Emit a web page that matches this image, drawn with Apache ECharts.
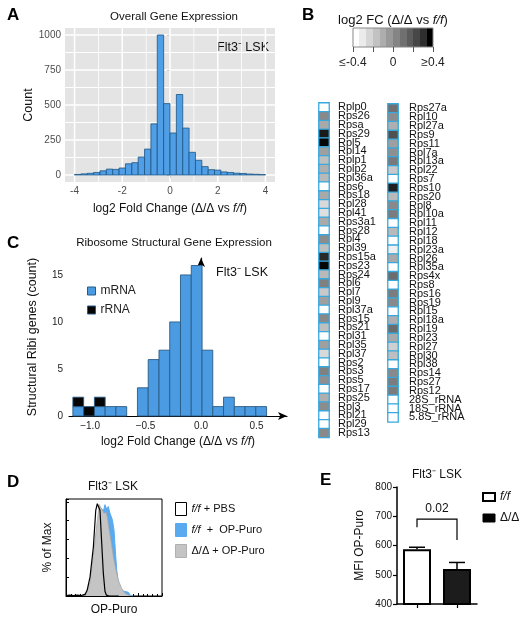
<!DOCTYPE html>
<html><head><meta charset="utf-8">
<script src="https://cdn.jsdelivr.net/npm/echarts@6/dist/echarts.min.js"></script>
<style>html,body{margin:0;padding:0;background:#fff}#c{width:525px;height:619px}</style>
</head><body><div id="c"></div>
<script>
// ---------- Panel A: overall gene expression histogram ----------
const aBinStart = [-4.000,-3.733,-3.467,-3.200,-2.933,-2.667,-2.400,-2.133,-1.867,-1.600,-1.333,-1.067,-0.800,-0.533,-0.267,0.000,0.267,0.533,0.800,1.067,1.333,1.600,1.867,2.133,2.400,2.667,2.933,3.200,3.467,3.733];
const aBinWidth = 0.2667;
const aCounts = [4,8,12,18,30,42,40,50,80,88,128,185,365,1000,510,300,575,335,162,105,60,38,35,22,18,13,11,7,5,3];
const aMajorX = [-4,-2,0,2,4];
const aMinorX = [-3,-1,1,3];
const aMajorY = [0,250,500,750,1000];
const aMinorY = [125,375,625,875];

// ---------- Panel B: heatmap of log2 FC ----------
const bGenesLeft = ['Rplp0','Rps26','Rpsa','Rps29','Rpl5','Rpl14','Rplp1','Rplp2','Rpl36a','Rps6','Rps18','Rpl28','Rpl41','Rps3a1','Rps28','Rpl4','Rpl39','Rps15a','Rps23','Rps24','Rpl6','Rpl7','Rpl9','Rpl37a','Rps15','Rps21','Rpl31','Rpl35','Rpl37','Rps2','Rps3','Rps5','Rps17','Rps25','Rpl3','Rpl21','Rpl29','Rps13'];
const bValsLeft = [-0.40,-0.03,-0.13,0.32,0.38,-0.10,-0.20,-0.15,-0.18,-0.40,-0.13,-0.28,-0.30,-0.13,-0.40,-0.04,-0.20,0.27,0.38,-0.18,0.00,-0.23,-0.10,-0.40,-0.03,-0.20,-0.40,-0.10,-0.28,-0.40,0.00,-0.05,-0.40,-0.15,-0.04,-0.40,-0.40,-0.03];
const bGenesRight = ['Rps27a','Rpl10','Rpl27a','Rps9','Rps11','Rpl7a','Rpl13a','Rpl22','Rps7','Rps10','Rps20','Rpl8','Rpl10a','Rpl11','Rpl12','Rpl18','Rpl23a','Rpl26','Rpl35a','Rps4x','Rps8','Rps16','Rps19','Rpl15','Rpl18a','Rpl19','Rpl23','Rpl27','Rpl30','Rpl38','Rps14','Rps27','Rps12','28S_rRNA','18S_rRNA','5.8S_rRNA'];
const bValsRight = [0.05,-0.04,-0.15,0.15,-0.10,-0.05,0.02,-0.23,-0.40,0.30,-0.18,-0.03,0.01,-0.40,-0.18,-0.40,-0.35,-0.13,-0.40,0.06,-0.40,0.01,-0.03,-0.40,-0.15,0.06,-0.13,-0.25,-0.20,-0.40,-0.03,0.01,0.01,-0.40,-0.40,-0.40];

// ---------- Panel C: ribosome structural gene histogram ----------
const cBinStart = [-1.155,-1.058,-0.961,-0.864,-0.767,-0.670,-0.573,-0.476,-0.379,-0.282,-0.185,-0.088,0.009,0.106,0.203,0.300,0.397,0.494];
const cBinWidth = 0.097;
const cMRNA = [1,0,1,1,1,0,3,6,7,10,15,16,7,1,2,1,1,1];
const cRRNA = [1,1,1,0,0,0,0,0,0,0,0,0,0,0,0,0,0,0];
const cTicksX = [-1.0,-0.5,0.0,0.5];
const cTicksY = [0,5,10,15];

// ---------- Panel D: OP-Puro flow histograms (% of max) ----------
const dPbsX = [0,4,8,12,16,20,22,25,28.5,31,32.6,33.7,35.4,37,38.9,40.6,42,45,55];
const dPbsY = [0.5,1,0.5,1,0.5,2,6,20,52,91,98,99,91,60,24,5,1,0,0];
const dFfX = [25,26.7,28.5,31.9,34.7,37,38.9,40.6,42.4,44,45.8,48.3,50,51.4,52.8,54.5,57,60.5,65,66.7,70];
const dFfY = [0,2,20,60,85,93,90,97,92,95,88,81,70,48,28,14,7,5,4,1,0];
const dDdX = [20,22,25,28.5,31.9,34.7,36.5,38,39.6,41.7,43,45,47.6,49.3,52,54.4,58,61.5,65,68];
const dDdY = [0,1,14,43,74,97,95,91,88,89,84,70,54,42,28,17,8,3,1,0];

// ---------- Panel E: MFI OP-Puro bars ----------
const eGroups = ['f/f','Δ/Δ'];
const eMeans = [587,520];
const eErr = [7,22];
const eBracket = [662,690,619];
const eBracketLabelY = 727;
const eP = '0.02';

const FONT = 'Liberation Sans';
const chart = echarts.init(document.getElementById('c'), null, {renderer:'canvas'});

const greySteps = ['#ffffff','#ebebeb','#d6d6d6','#c2c2c2','#adadad','#999999','#858585','#707070','#5c5c5c','#474747','#2e2e2e','#000000'];
const stops = [];
greySteps.forEach((c,i)=>{stops.push({offset:i/greySteps.length,color:c});stops.push({offset:(i+1)/greySteps.length,color:c});});

// gridline items: [x, y, major]
const aVLines = [...aMinorX.map(v=>[v,0,0]), ...aMajorX.map(v=>[v,0,1])];
const aHLines = [...aMinorY.map(v=>[0,v,0]), ...aMajorY.map(v=>[0,v,1])];

const option = {
  animation:false,
  textStyle:{fontFamily:FONT},
  grid:[
    {left:65, top:28, width:210, height:154, show:true, backgroundColor:'#e4e4e4', borderWidth:0},
    {left:353, top:28, width:80, height:19, show:true, borderColor:'#888', borderWidth:1,
      backgroundColor:{type:'linear',x:0,y:0,x2:1,y2:0,colorStops:stops}},
    {left:319, top:103, width:10, height:334.4},
    {left:388, top:104, width:10, height:317.8},
    {left:69, top:258, width:218, height:158},
    {left:66, top:499, width:96, height:97, show:true, borderColor:'#000', borderWidth:1},
    {left:397, top:487, width:80, height:117}
  ],
  xAxis:[
    {gridIndex:0, type:'value', min:-4.4, max:4.4, splitLine:{show:false}, axisLine:{show:false},
     axisTick:{show:true, length:3, lineStyle:{color:'#333'}, customValues:aMajorX},
     axisLabel:{customValues:aMajorX, fontSize:10, color:'#4d4d4d', margin:4},
     name:'log2 Fold Change (Δ/Δ vs {i|f/f})', nameLocation:'middle', nameGap:21,
     nameTextStyle:{fontSize:12, color:'#111', rich:{i:{fontStyle:'italic',fontSize:12,color:'#111'}}}},
    {gridIndex:1, type:'value', min:-0.4, max:0.4, interval:0.2, splitLine:{show:false}, axisLine:{show:false},
     axisTick:{show:true, length:5, lineStyle:{color:'#555'}},
     axisLabel:{fontSize:12, color:'#222', margin:10, formatter:v=>Math.abs(v+0.4)<1e-6?'≤-0.4':(Math.abs(v)<1e-6?'0':(Math.abs(v-0.4)<1e-6?'≥0.4':''))}},
    {gridIndex:2, type:'category', data:['v'], show:false},
    {gridIndex:3, type:'category', data:['v'], show:false},
    {gridIndex:4, type:'value', min:-1.19, max:0.775, splitLine:{show:false},
     axisLine:{show:true, lineStyle:{color:'#000', width:1.2}, symbol:['none','arrow'], symbolSize:[6,9]},
     axisTick:{show:false},
     axisLabel:{customValues:cTicksX, fontSize:10, color:'#222', margin:5, formatter:v=>(v<0?'−':'')+Math.abs(v).toFixed(1)},
     name:'log2 Fold Change (Δ/Δ vs {i|f/f})', nameLocation:'middle', nameGap:20,
     nameTextStyle:{fontSize:12, color:'#111', rich:{i:{fontStyle:'italic',fontSize:12,color:'#111'}}}},
    {gridIndex:5, type:'value', min:0, max:100, interval:25, splitLine:{show:false},
     axisLine:{show:true, lineStyle:{color:'#000', width:1}},
     axisTick:{show:true, inside:true, length:3, lineStyle:{color:'#000'}},
     minorTick:{show:true, splitNumber:5, length:2, lineStyle:{color:'#000'}},
     axisLabel:{show:false},
     name:'OP-Puro', nameLocation:'middle', nameGap:8, nameTextStyle:{fontSize:12, color:'#111'}},
    {gridIndex:6, type:'category', data:eGroups,
     axisLine:{show:true, lineStyle:{color:'#000', width:1.5}},
     axisTick:{show:true, alignWithLabel:true, length:4, lineStyle:{color:'#000', width:1.2}},
     axisLabel:{show:false}}
  ],
  yAxis:[
    {gridIndex:0, type:'value', min:-50, max:1050, splitLine:{show:false}, axisLine:{show:false},
     axisTick:{show:true, length:3, lineStyle:{color:'#333'}, customValues:aMajorY},
     axisLabel:{customValues:aMajorY, fontSize:10, color:'#4d4d4d', margin:4, formatter:v=>String(v)},
     name:'Count', nameLocation:'middle', nameGap:27, nameTextStyle:{fontSize:12.5, color:'#111'}},
    {gridIndex:1, type:'value', min:0, max:1, show:false},
    {gridIndex:2, type:'category', data:bGenesLeft, inverse:true, position:'right',
     axisLine:{show:false}, axisTick:{show:false},
     axisLabel:{interval:0, fontSize:11, color:'#111', margin:9, hideOverlap:false}},
    {gridIndex:3, type:'category', data:bGenesRight, inverse:true, position:'right',
     axisLine:{show:false}, axisTick:{show:false},
     axisLabel:{interval:0, fontSize:11, color:'#111', margin:11, hideOverlap:false}},
    {gridIndex:4, type:'value', min:0, max:16.8, splitLine:{show:false},
     axisLine:{show:true, lineStyle:{color:'#000', width:1.2}, symbol:['none','arrow'], symbolSize:[6,9]},
     axisTick:{show:true, length:4, customValues:cTicksY, lineStyle:{color:'#000'}},
     axisLabel:{customValues:cTicksY, fontSize:10, color:'#222', margin:6},
     name:'Structural Ribi genes (count)', nameLocation:'middle', nameGap:30, nameTextStyle:{fontSize:12.5, color:'#111'}},
    {gridIndex:5, type:'value', min:0, max:103, interval:20, splitLine:{show:false},
     axisLine:{show:true, lineStyle:{color:'#000', width:1}},
     axisTick:{show:true, inside:true, length:3, lineStyle:{color:'#000'}},
     axisLabel:{show:false},
     name:'% of Max', nameLocation:'middle', nameGap:12, nameTextStyle:{fontSize:12, color:'#111'}},
    {gridIndex:6, type:'value', min:400, max:800, interval:100, splitLine:{show:false},
     axisLine:{show:true, lineStyle:{color:'#000', width:1.5}},
     axisTick:{show:true, length:4, lineStyle:{color:'#000', width:1.2}},
     axisLabel:{fontSize:10, color:'#111', margin:5},
     name:'MFI OP-Puro', nameLocation:'middle', nameGap:31, nameTextStyle:{fontSize:12, color:'#111'}}
  ],
  visualMap:[{type:'continuous', show:false, min:-0.4, max:0.4, dimension:2, seriesIndex:[3,4],
    inRange:{color:['#ffffff','#000000']}}],
  legend:[
    {data:[{name:'mRNA', itemStyle:{color:'#4b9be3', borderColor:'#2a5b84', borderWidth:1}},
           {name:'rRNA', itemStyle:{color:'#050505', borderColor:'#2a5b84', borderWidth:1}}],
     orient:'vertical', left:82, top:280, itemWidth:8, itemHeight:8, itemGap:7, icon:'rect', selectedMode:false,
     textStyle:{fontSize:12, color:'#222'}},
    {data:[{name:'f/f + PBS', itemStyle:{color:'#ffffff', borderColor:'#000', borderWidth:1}},
           {name:'f/f  +  OP-Puro', itemStyle:{color:'#5aaaf0', borderColor:'#5aaaf0', borderWidth:1}},
           {name:'Δ/Δ + OP-Puro', itemStyle:{color:'#c4c4c4', borderColor:'#b0b0b0', borderWidth:1}}],
     orient:'vertical', left:170, top:497, itemWidth:11, itemHeight:13, itemGap:7, icon:'rect', selectedMode:false,
     formatter:n=>n.replace(/f\/f/g,'{i|f/f}'),
     textStyle:{fontSize:11, color:'#111', rich:{i:{fontStyle:'italic', fontSize:11, color:'#111'}}}},
    {data:[{name:'f/f', itemStyle:{color:'#ffffff', borderColor:'#000', borderWidth:2}},
           {name:'Δ/Δ', itemStyle:{color:'#000', borderColor:'#000', borderWidth:1}}],
     orient:'vertical', left:477, top:486, itemWidth:12, itemHeight:8, itemGap:9, icon:'rect', selectedMode:false,
     formatter:n=>n==='f/f'?'{i|f/f}':n,
     textStyle:{fontSize:12, color:'#111', rich:{i:{fontStyle:'italic', fontSize:12, color:'#111'}}}}
  ],
  series:[
    // A vertical gridlines
    {type:'custom', xAxisIndex:0, yAxisIndex:0, z:2, silent:true, data:aVLines, clip:false,
     renderItem:(p,api)=>{const cs=p.coordSys; const x=api.coord([api.value(0),0])[0];
       return {type:'rect', shape:{x:x-(api.value(2)?0.75:0.4), y:cs.y, width:api.value(2)?1.5:0.8, height:cs.height},
         style:{fill:'#ffffff'}};}},
    // A horizontal gridlines
    {type:'custom', xAxisIndex:0, yAxisIndex:0, z:2, silent:true, data:aHLines, clip:false,
     renderItem:(p,api)=>{const cs=p.coordSys; const y=api.coord([0,api.value(1)])[1];
       return {type:'rect', shape:{x:cs.x, y:y-(api.value(2)?0.75:0.4), width:cs.width, height:api.value(2)?1.5:0.8},
         style:{fill:'#ffffff'}};}},
    // A histogram
    {type:'custom', xAxisIndex:0, yAxisIndex:0, z:4,
     data:aBinStart.map((s,i)=>[s, s+aBinWidth, aCounts[i]]),
     encode:{x:[0,1], y:2},
     renderItem:(p,api)=>{const a=api.coord([api.value(0),0]);const b=api.coord([api.value(1),api.value(2)]);
       return {type:'rect', shape:{x:a[0], y:b[1], width:b[0]-a[0], height:a[1]-b[1]},
         style:{fill:'#4f9ee6', stroke:'#1d5584', lineWidth:0.8}};}},
    // B heatmaps
    {type:'heatmap', xAxisIndex:2, yAxisIndex:2, data:bValsLeft.map((v,i)=>[0,i,v]),
     itemStyle:{borderColor:'#38a9df', borderWidth:1.3}, emphasis:{disabled:true}},
    {type:'heatmap', xAxisIndex:3, yAxisIndex:3, data:bValsRight.map((v,i)=>[0,i,v]),
     itemStyle:{borderColor:'#38a9df', borderWidth:1.3}, emphasis:{disabled:true}},
    // C histogram
    {type:'custom', name:'mRNA', xAxisIndex:4, yAxisIndex:4, itemStyle:{color:'#4b9be3'},
     data:cBinStart.map((s,i)=>[s, s+cBinWidth, 0, cMRNA[i]]).filter(d=>d[3]>0),
     encode:{x:[0,1], y:[2,3]},
     renderItem:(p,api)=>{const a=api.coord([api.value(0),api.value(2)]);const b=api.coord([api.value(1),api.value(3)]);
       return {type:'rect', shape:{x:a[0], y:b[1], width:b[0]-a[0], height:a[1]-b[1]},
         style:{fill:'#4b9be3', stroke:'#2a5b84', lineWidth:0.9}};}},
    {type:'custom', name:'rRNA', xAxisIndex:4, yAxisIndex:4, itemStyle:{color:'#050505'},
     data:cBinStart.map((s,i)=>[s, s+cBinWidth, cMRNA[i], cMRNA[i]+cRRNA[i]]).filter(d=>d[3]>d[2]),
     encode:{x:[0,1], y:[2,3]},
     renderItem:(p,api)=>{const a=api.coord([api.value(0),api.value(2)]);const b=api.coord([api.value(1),api.value(3)]);
       return {type:'rect', shape:{x:a[0], y:b[1], width:b[0]-a[0], height:a[1]-b[1]},
         style:{fill:'#050505', stroke:'#2a5b84', lineWidth:0.9}};}},
    // D histograms
    {type:'line', name:'f/f  +  OP-Puro', xAxisIndex:5, yAxisIndex:5, showSymbol:false, smooth:false,
     data:dFfX.map((x,i)=>[x,dFfY[i]]), lineStyle:{color:'#5aaaf0', width:1},
     itemStyle:{color:'#5aaaf0'}, areaStyle:{color:'#5aaaf0', opacity:1}, z:2},
    {type:'line', name:'Δ/Δ + OP-Puro', xAxisIndex:5, yAxisIndex:5, showSymbol:false, smooth:false,
     data:dDdX.map((x,i)=>[x,dDdY[i]]), lineStyle:{color:'#a6a6a6', width:0.8},
     itemStyle:{color:'#c4c4c4'}, areaStyle:{color:'#c4c4c4', opacity:1}, z:3},
    {type:'line', name:'f/f + PBS', xAxisIndex:5, yAxisIndex:5, showSymbol:false, smooth:false,
     data:dPbsX.map((x,i)=>[x,dPbsY[i]]), lineStyle:{color:'#000', width:1.2},
     itemStyle:{color:'#fff'}, z:4},
    // E bars
    {type:'bar', name:'f/f', xAxisIndex:6, yAxisIndex:6, barWidth:28, barGap:'-100%',
     data:[eMeans[0],'-'], itemStyle:{color:'#ffffff', borderColor:'#000', borderWidth:2}},
    {type:'bar', name:'Δ/Δ', xAxisIndex:6, yAxisIndex:6, barWidth:28, barGap:'-100%',
     data:['-',eMeans[1]], itemStyle:{color:'#1c1c1c', borderColor:'#000', borderWidth:2}},
    // E error bars
    {type:'custom', xAxisIndex:6, yAxisIndex:6, z:5,
     data:eMeans.map((m,i)=>[i, m, m+eErr[i]]),
     renderItem:(p,api)=>{const a=api.coord([api.value(0),api.value(1)]);const b=api.coord([api.value(0),api.value(2)]);
       return {type:'group', children:[
         {type:'line', shape:{x1:a[0],y1:a[1],x2:b[0],y2:b[1]}, style:{stroke:'#000', lineWidth:1.5}},
         {type:'line', shape:{x1:b[0]-8,y1:b[1],x2:b[0]+8,y2:b[1]}, style:{stroke:'#000', lineWidth:1.5}}]};}},
    // E significance bracket
    {type:'custom', xAxisIndex:6, yAxisIndex:6, z:5,
     data:[[0, eBracket[0], eBracket[1], eBracket[2], eBracketLabelY]],
     renderItem:(p,api)=>{const a=api.coord([0,api.value(1)]);const b=api.coord([0,api.value(2)]);
       const c=api.coord([1,api.value(2)]);const d=api.coord([1,api.value(3)]);const t=api.coord([0,api.value(4)]);
       return {type:'group', children:[
         {type:'polyline', shape:{points:[a,b,c,d]}, style:{stroke:'#000', lineWidth:1.2, fill:null}},
         {type:'text', style:{text:eP, x:(b[0]+c[0])/2, y:t[1], align:'center', verticalAlign:'middle',
           fontSize:12, fontFamily:FONT, fill:'#111'}}]};}}
  ],
  graphic:[
    {type:'text', left:7, top:7, style:{text:'A', font:'bold 17px "Liberation Sans"', fill:'#000'}},
    {type:'text', left:302, top:7, style:{text:'B', font:'bold 17px "Liberation Sans"', fill:'#000'}},
    {type:'text', left:7, top:235, style:{text:'C', font:'bold 17px "Liberation Sans"', fill:'#000'}},
    {type:'text', left:7, top:474, style:{text:'D', font:'bold 17px "Liberation Sans"', fill:'#000'}},
    {type:'text', left:320, top:472, style:{text:'E', font:'bold 17px "Liberation Sans"', fill:'#000'}},
    {type:'text', x:174, y:17, style:{text:'Overall Gene Expression', align:'center', verticalAlign:'middle', fontSize:11.5, fontFamily:FONT, fill:'#111'}},
    {type:'text', x:243, y:48, style:{text:'Flt3⁻ LSK', align:'center', verticalAlign:'middle', fontSize:12.5, fontFamily:FONT, fill:'#111'}},
    {type:'text', x:393, y:20, style:{text:'log2 FC (Δ/Δ vs {i|f/f})', rich:{i:{fontStyle:'italic', fontSize:13, fontFamily:FONT, fill:'#111'}}, align:'center', verticalAlign:'middle', fontSize:13, fontFamily:FONT, fill:'#111'}},
    {type:'text', x:174, y:243, style:{text:'Ribosome Structural Gene Expression', align:'center', verticalAlign:'middle', fontSize:11.5, fontFamily:FONT, fill:'#111'}},
    {type:'text', x:242, y:273, style:{text:'Flt3⁻ LSK', align:'center', verticalAlign:'middle', fontSize:12.5, fontFamily:FONT, fill:'#111'}},
    {type:'text', x:113, y:487, style:{text:'Flt3⁻ LSK', align:'center', verticalAlign:'middle', fontSize:12, fontFamily:FONT, fill:'#111'}},
    {type:'text', x:437, y:475, style:{text:'Flt3⁻ LSK', align:'center', verticalAlign:'middle', fontSize:12, fontFamily:FONT, fill:'#111'}}
  ]
};
chart.setOption(option);
</script>
</body></html>
